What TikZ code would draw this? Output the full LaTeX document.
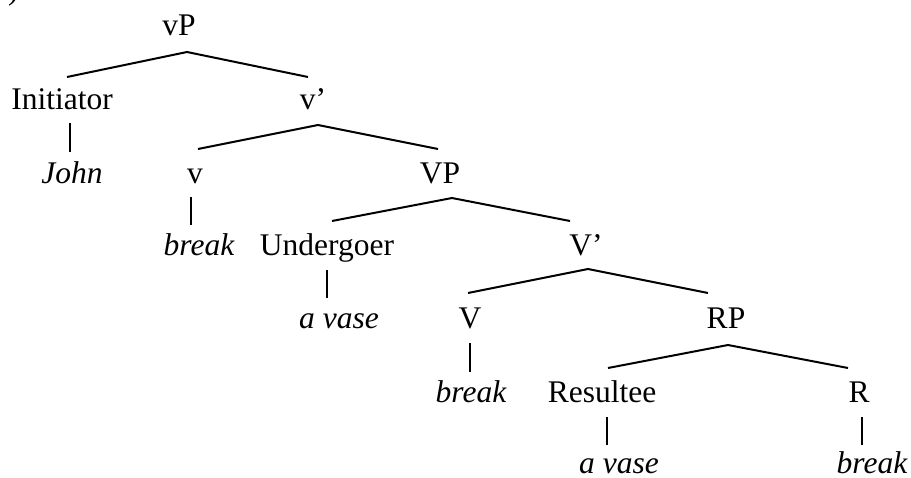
\documentclass[tikz,border=0pt]{standalone}
\usepackage{fontspec}
\setmainfont{Liberation Serif}
\begin{document}
\begin{tikzpicture}[x=1pt,y=-1pt,
  lbl/.style={anchor=base,inner sep=0pt,font=\fontsize{31.5}{36}\selectfont},
  wd/.style={lbl,font=\fontsize{31.5}{36}\selectfont\itshape},
  branch/.style={line width=2pt},
  stem/.style={line width=2pt}]
\useasboundingbox (0,0) rectangle (911,477);
% fragment of a label cut off at the top edge
\node[lbl,anchor=base west] (paren) at (8,-1) {)};
% nodes
\node[lbl] (vP) at (179,35) {vP};
\node[lbl] (Init) at (62,109) {Initiator};
\node[lbl] (vbar) at (313,109) {v’};
\node[wd] (John) at (72,183) {John};
\node[lbl] (v) at (195,183) {v};
\node[lbl] (VP) at (440,183) {VP};
\node[wd] (break1) at (199,255) {break};
\node[lbl] (Und) at (327,255) {Undergoer};
\node[lbl] (Vbar) at (586,255) {V’};
\node[wd] (vase1) at (339,328) {a vase};
\node[lbl] (V) at (470,328) {V};
\node[lbl] (RP) at (726,328) {RP};
\node[wd] (break2) at (471,402) {break};
\node[lbl] (Res) at (602,402) {Resultee};
\node[lbl] (R) at (859,402) {R};
\node[wd] (vase2) at (619,473) {a vase};
\node[wd] (break3) at (872,473) {break};
% branches
\draw[branch] ([shift={(5,-32)}]Init.base) -- ([shift={(8,17)}]vP.base) -- ([shift={(-5,-32)}]vbar.base);
\draw[branch] ([shift={(3,-34)}]v.base) -- ([shift={(5,16)}]vbar.base) -- ([shift={(-2,-34)}]VP.base);
\draw[branch] ([shift={(5,-34)}]Und.base) -- ([shift={(12,15)}]VP.base) -- ([shift={(-16,-34)}]Vbar.base);
\draw[branch] ([shift={(-2,-35)}]V.base) -- ([shift={(2,14)}]Vbar.base) -- ([shift={(-18,-35)}]RP.base);
\draw[branch] ([shift={(6,-34)}]Res.base) -- ([shift={(2,17)}]RP.base) -- ([shift={(-11,-34)}]R.base);
% stems
\draw[stem] ([shift={(8,14)}]Init.base) -- ([shift={(-2,-31)}]John.base);
\draw[stem] ([shift={(-4,14)}]v.base) -- ([shift={(-8,-30)}]break1.base);
\draw[stem] ([shift={(0,15)}]Und.base) -- ([shift={(-12,-30)}]vase1.base);
\draw[stem] ([shift={(0,15)}]V.base) -- ([shift={(-1,-30)}]break2.base);
\draw[stem] ([shift={(5,15)}]Res.base) -- ([shift={(-12,-28)}]vase2.base);
\draw[stem] ([shift={(3,15)}]R.base) -- ([shift={(-10,-28)}]break3.base);
\end{tikzpicture}
\end{document}
